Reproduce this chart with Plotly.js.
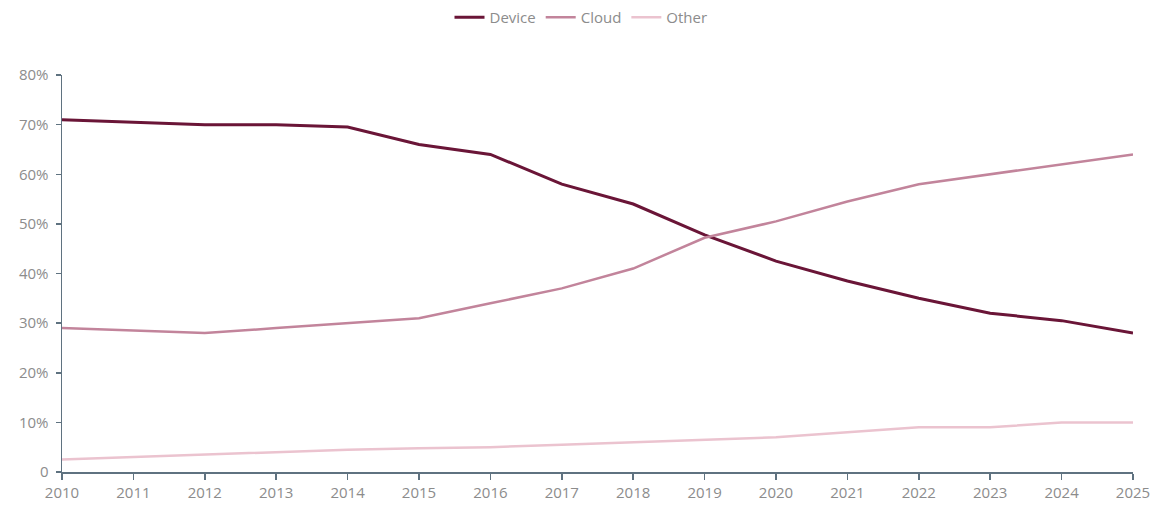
<!DOCTYPE html>
<html>
<head>
<meta charset="utf-8">
<script src="https://cdn.plot.ly/plotly-3.0.1.min.js"></script>
<style>html,body{margin:0;padding:0;background:#fff;}#chart{width:1159px;height:507px;}</style>
</head>
<body>
<div id="chart"></div>
<script>
const years = [2010,2011,2012,2013,2014,2015,2016,2017,2018,2019,2020,2021,2022,2023,2024,2025];
const device = [71,70.5,70,70,69.5,66,64,58,54,47.8,42.5,38.5,35,32,30.5,28];
const cloud = [29,28.5,28,29,30,31,34,37,41,47.2,50.5,54.5,58,60,62,64];
const other = [2.5,3,3.5,4,4.5,4.8,5,5.5,6,6.5,7,8,9,9,10,10];
const yTickVals = [0,10,20,30,40,50,60,70,80];
const yTickText = ['0','10%','20%','30%','40%','50%','60%','70%','80%'];

const traces = [
  {x: years, y: device, name: 'Device', mode: 'lines', line: {color: '#6a1537', width: 3}},
  {x: years, y: cloud, name: 'Cloud', mode: 'lines', line: {color: '#c2849b', width: 2.5}},
  {x: years, y: other, name: 'Other', mode: 'lines', line: {color: '#ebc3cf', width: 2.5}}
];
const axisColor = '#5f7280';
const layout = {
  width: 1159, height: 507,
  margin: {l: 62, r: 26, t: 75, b: 35, autoexpand: false},
  paper_bgcolor: '#fff', plot_bgcolor: '#fff',
  font: {family: 'Open Sans, sans-serif', color: '#8c8c8c', size: 15},
  showlegend: true,
  legend: {orientation: 'h', x: 0.4846, xanchor: 'center', y: 1.145, yanchor: 'middle', font: {size: 15, color: '#8c8c8c'}, itemwidth: 30},
  xaxis: {
    range: [2010, 2025], tickmode: 'array', tickvals: years, ticktext: years.map(String),
    showgrid: false, zeroline: false, showline: true, linecolor: axisColor, linewidth: 1.5,
    ticks: 'outside', ticklen: 6, tickcolor: axisColor, tickwidth: 1.5, fixedrange: true
  },
  yaxis: {
    range: [0, 80], tickmode: 'array', tickvals: yTickVals, ticktext: yTickText,
    showgrid: false, zeroline: false, showline: true, linecolor: axisColor, linewidth: 1.5,
    ticks: 'outside', ticklen: 5, tickcolor: axisColor, tickwidth: 1.5, ticklabelstandoff: 4
  }
};
Plotly.newPlot('chart', traces, layout, {displayModeBar: false, staticPlot: true});
</script>
</body>
</html>
